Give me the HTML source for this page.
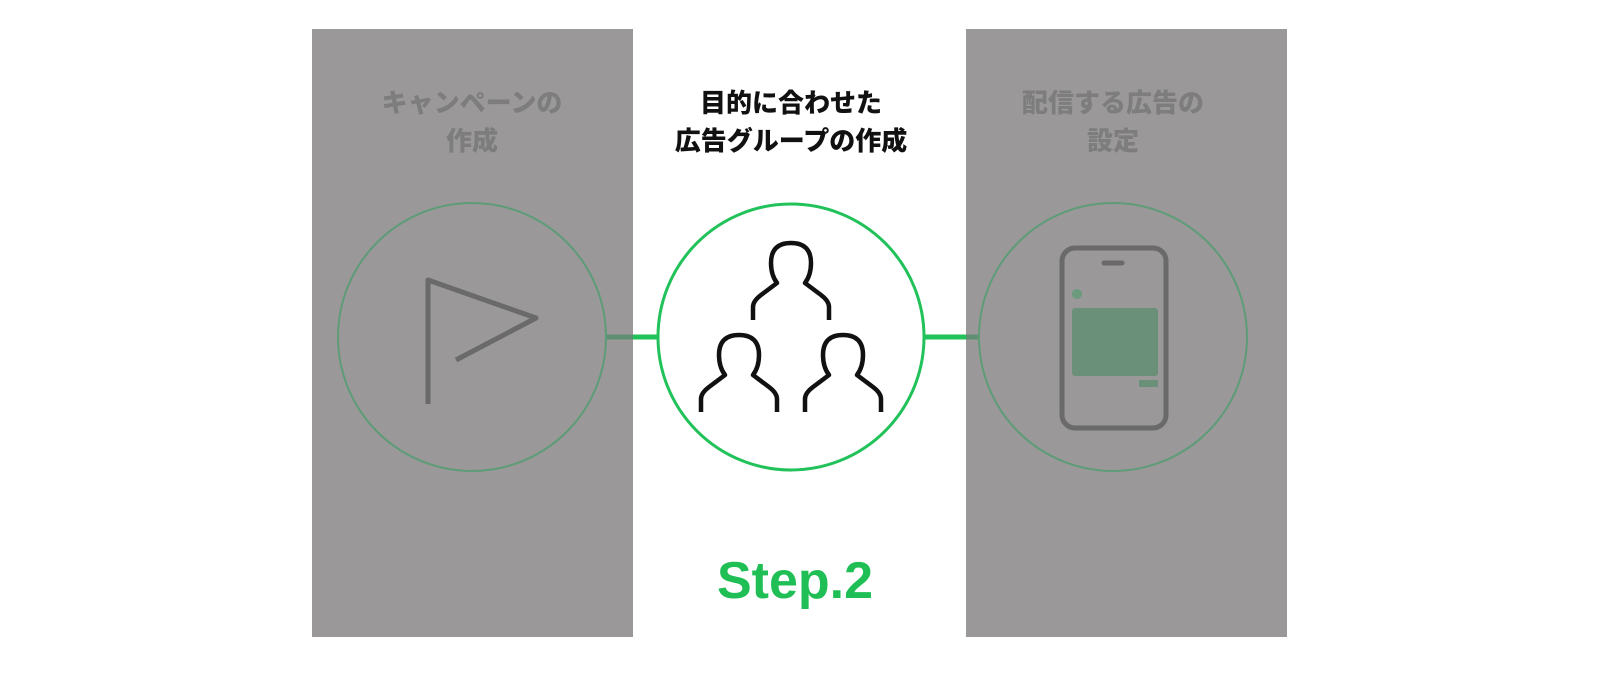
<!DOCTYPE html>
<html><head><meta charset="utf-8"><style>
body{margin:0;width:1600px;height:674px;background:#fff;overflow:hidden;font-family:"Liberation Sans","Noto Sans CJK JP",sans-serif}
</style></head><body>
<svg width="1600" height="674" xmlns="http://www.w3.org/2000/svg">
<defs>
<path id="p" d="M-38,55 V42 Q-38,36 -30,30 L-14,18 Q-20,10 -20,-2 Q-20,-22 0,-22 Q20,-22 20,-2 Q20,10 14,18 L30,30 Q38,36 38,42 V55"/>
</defs>
<rect x="312" y="29" width="321" height="608" fill="#9a9899"/>
<rect x="966" y="29" width="321" height="608" fill="#9a9899"/>
<line x1="607" y1="337" x2="633" y2="337" stroke="#5f8f72" stroke-width="5"/>
<line x1="633" y1="337" x2="658" y2="337" stroke="#22c25a" stroke-width="5"/>
<line x1="925" y1="337" x2="966" y2="337" stroke="#22c25a" stroke-width="5"/>
<line x1="966" y1="337" x2="979" y2="337" stroke="#5f8f72" stroke-width="5"/>
<circle cx="472" cy="337" r="134" fill="none" stroke="#5e9c78" stroke-width="2"/>
<circle cx="791" cy="337" r="133" fill="#fff" stroke="#22c25a" stroke-width="3"/>
<circle cx="1113" cy="337" r="134" fill="none" stroke="#5e9c78" stroke-width="2"/>
<g font-weight="900" font-size="26" text-anchor="middle">
<text x="472" y="112" fill="#7e7d7e">キャンペーンの</text>
<text x="472" y="150" fill="#7e7d7e">作成</text>
<text x="791" y="112" fill="#111">目的に合わせた</text>
<text x="791" y="150" fill="#111">広告グループの作成</text>
<text x="1113" y="112" fill="#7e7d7e">配信する広告の</text>
<text x="1113" y="150" fill="#7e7d7e">設定</text>
</g>
<text x="795" y="598" text-anchor="middle" font-size="52" font-weight="bold" fill="#1fbf55">Step.2</text>
<g fill="none" stroke="#6a6a6a" stroke-width="5" stroke-linejoin="round">
<polyline points="428,404 428,280 536,318 456,360"/>
</g>
<g fill="none" stroke="#111" stroke-width="4.5" stroke-linejoin="round">
<use href="#p" transform="translate(791,265)"/>
<use href="#p" transform="translate(739,357)"/>
<use href="#p" transform="translate(843,357)"/>
</g>
<rect x="1062" y="248" width="104" height="180" rx="13" fill="none" stroke="#6a6a6a" stroke-width="5"/>
<line x1="1104" y1="263" x2="1122" y2="263" stroke="#6a6a6a" stroke-width="5" stroke-linecap="round"/>
<circle cx="1077" cy="294" r="5" fill="#6b9a7c"/>
<rect x="1072" y="308" width="86" height="68" rx="3" fill="#6b9079"/>
<rect x="1139" y="380" width="19" height="7" fill="#6b9079"/>
</svg>
</body></html>
